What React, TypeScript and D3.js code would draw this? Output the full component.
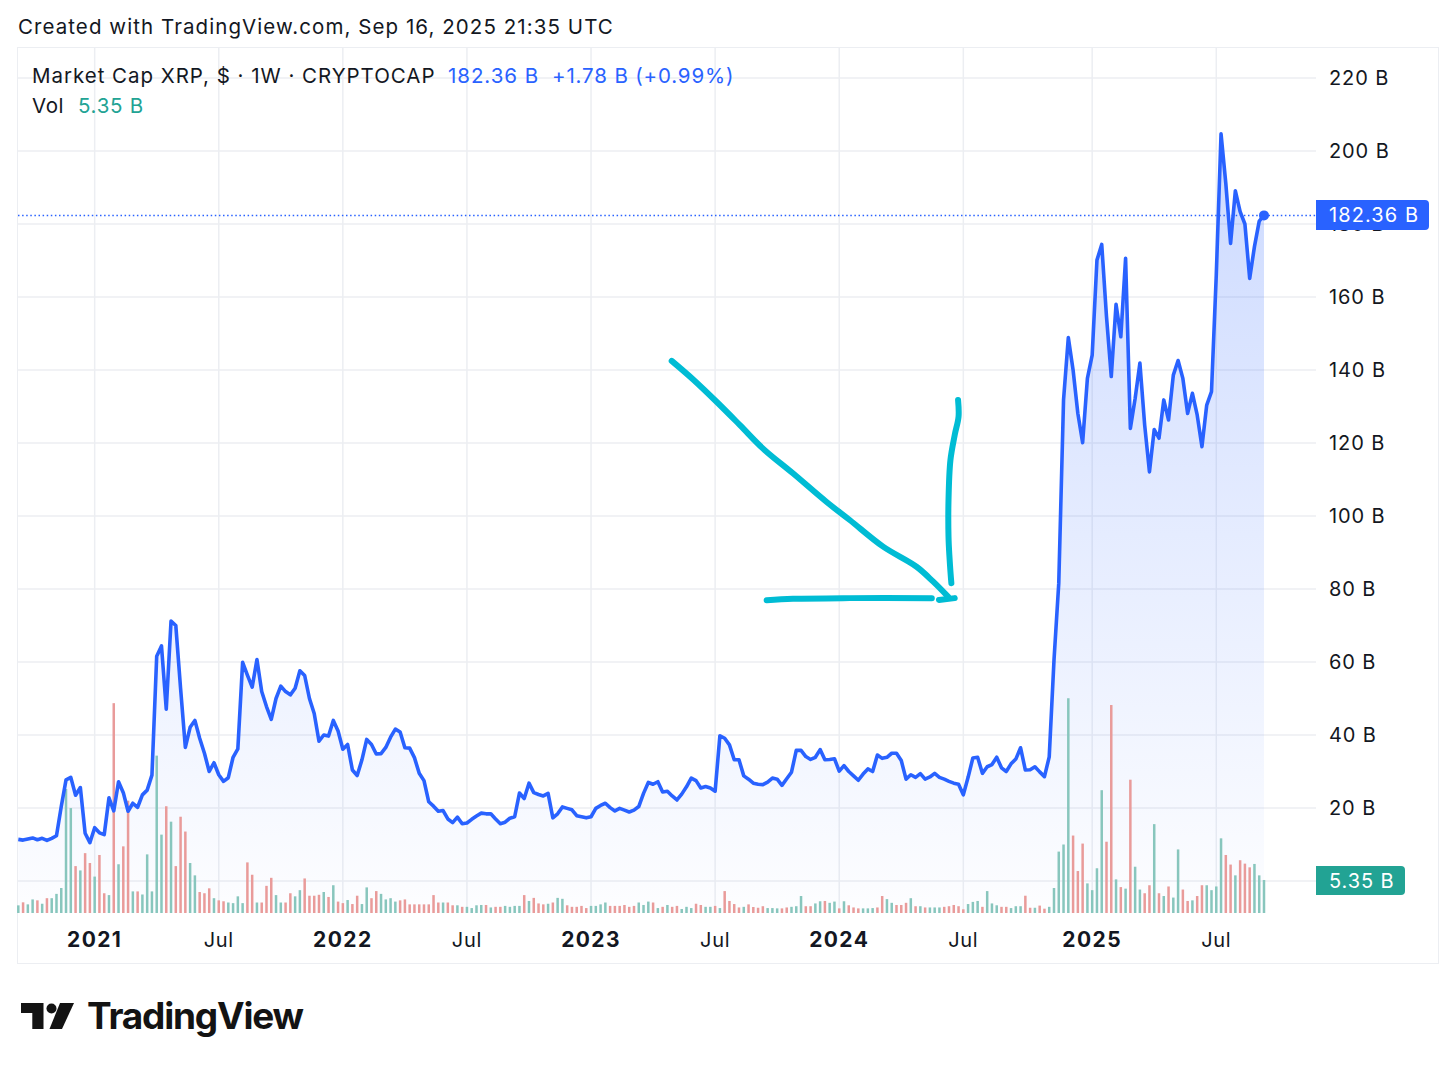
import React from "react";
import * as d3 from "d3";

const WIDTH = 1456;
const HEIGHT = 1070;
const FONT = "Inter, 'Noto Sans', sans-serif";
const BLUE = "#2962ff";
const TEAL = "#22a394";
const BAR_UP = "#88c6bd";
const BAR_DOWN = "#e99b9a";
const CYAN = "#00bcd4";
const GRID = "#eceef2";

// weekly market cap, billions USD, Sep 2020 .. Sep 2025
const marketCap = [
	11.4, 11.2, 11.5, 11.8, 11.3, 11.7, 11.1, 11.7, 12.4, 20.4,
	27.7, 28.4, 23.5, 25.6, 13.1, 10.5, 14.6, 13.2, 12.7, 22.8,
	19.2, 27.2, 24.2, 19.1, 21.3, 20.2, 23.6, 24.9, 29, 61.6,
	64.4, 47.1, 71.2, 70, 52.8, 36.6, 42.1, 44, 39.1, 35,
	30, 32.4, 29.1, 27.3, 28.3, 33.9, 36.2, 59.9, 56.4, 53.1,
	60.7, 51.9, 47.8, 44.3, 50, 53.4, 51.9, 51, 52.8, 57.6,
	56.3, 50, 45.9, 38.3, 40, 39.7, 44, 41.1, 36.1, 37.4,
	30.4, 28.9, 33.2, 38.8, 37.4, 34.8, 34.9, 36.6, 39.4, 41.6,
	40.8, 36.5, 36.4, 33.8, 29.5, 27.5, 21.7, 20.5, 19.1, 19.3,
	17, 16, 17.5, 15.7, 15.9, 16.9, 17.8, 18.6, 18.4, 18.4,
	17, 15.7, 16.1, 17.2, 17.6, 24.1, 22.6, 26.8, 24.2, 23.7,
	23.3, 24, 17.3, 18.4, 20.3, 19.9, 19.5, 17.9, 17.6, 17.3,
	17.6, 19.9, 20.7, 21.3, 20.1, 19.2, 19.9, 19.4, 18.9, 19.4,
	20.4, 24, 27, 26.5, 27.2, 24.4, 24.6, 23.3, 22.2, 23.8,
	25.8, 28.2, 27.5, 25.5, 25.9, 25.5, 24.6, 39.8, 39.1, 37.3,
	33.2, 33.2, 28.8, 27.9, 26.8, 26.5, 26.4, 27.1, 28.2, 27.9,
	26.2, 28, 29.8, 35.8, 35.8, 34.1, 33.3, 33.9, 36, 33.2,
	33.3, 33.5, 30.1, 31.6, 30, 28.8, 27.6, 29.3, 30.7, 30,
	34.5, 33.6, 33.9, 35, 35, 33, 27.9, 29.1, 28.4, 29.4,
	27.9, 28.5, 29.5, 28.4, 27.9, 27.3, 26.8, 26.5, 23.6, 28.4,
	33.7, 33.9, 29.5, 31.3, 31.9, 33.9, 31, 30, 32.1, 33.4,
	36.5, 30.4, 30.5, 31.3, 29.9, 28.6, 34, 60.5, 81.6, 131.8,
	148.9, 140, 128.1, 120.1, 137.7, 144.1, 170.1, 174.4, 154.6, 138.2,
	158, 149.1, 170.6, 124, 132.2, 141.9, 124.9, 112.1, 123.7, 121.3,
	131.8, 126.3, 138.6, 142.6, 137.7, 128.1, 133.6, 127.7, 119, 130.4,
	134.1, 166, 204.7, 191.1, 174.7, 189.1, 183.4, 180, 165.1, 173.8,
	180.8, 182.36,
];

// weekly volume, billions USD
const volume = [
	1.24, 1.73, 1.4, 2.2, 2.05, 1.5, 2.4, 2.4, 3.1, 4.05,
	20.1, 17, 7.6, 6.9, 9.7, 8.1, 5.9, 9.4, 3.2, 2.9,
	34, 7.9, 10.8, 18.2, 3.5, 3.5, 3, 9.5, 3.5, 25.5,
	12.7, 17.3, 14.8, 7.6, 15.6, 13.2, 8.1, 6.1, 3.4, 3.2,
	4, 2.4, 2.05, 1.9, 1.7, 1.6, 2.7, 1.6, 8.2, 6.2,
	1.7, 1.7, 4.4, 5.7, 2.9, 1.7, 1.7, 3.2, 2.7, 3.7,
	5.6, 2.8, 2.8, 2.95, 3.4, 2.6, 4.5, 1.85, 1.6, 2.1,
	1.45, 2.8, 1.45, 4.15, 2.4, 3.55, 3.1, 2.2, 2.4, 1.85,
	2.05, 2.2, 1.4, 1.4, 1.4, 1.4, 1.4, 2.9, 1.7, 1.7,
	1.7, 1.25, 1.25, 1, 1, 0.8, 1.25, 1.3, 1.3, 0.9,
	1, 1, 1.15, 1, 1.15, 1.15, 2.9, 1.95, 2.45, 1.55,
	1.4, 1.5, 1.7, 2.45, 2.3, 1.25, 1, 1, 1.15, 0.8,
	1.15, 1.15, 1.4, 1.7, 1.15, 1.15, 1.15, 1.3, 1, 1.15,
	1.7, 1.3, 1.85, 1.7, 0.8, 1, 1.3, 1, 1.15, 0.65,
	1, 0.8, 1.5, 1.3, 1, 1, 1.15, 0.8, 3.55, 1.95,
	1.45, 0.9, 1, 1.4, 0.97, 0.85, 1.1, 0.8, 0.8, 0.75,
	0.75, 0.9, 1, 1.1, 2.75, 1.1, 1.1, 1.55, 1.9, 1.95,
	1.65, 1.85, 0.75, 1.9, 1.25, 0.9, 0.75, 0.75, 0.75, 0.8,
	0.9, 2.75, 2.25, 1.65, 1.3, 1.3, 1.65, 2.4, 1.1, 1.1,
	0.9, 0.9, 0.9, 0.9, 1, 1.1, 1.3, 1.1, 0.6, 1.45,
	1.8, 1.95, 1, 3.55, 1.55, 1.25, 1, 1, 0.8, 1.1,
	1.1, 2.8, 0.85, 0.85, 1.2, 0.7, 1, 4.05, 9.95, 11.1,
	34.8, 12.55, 6.8, 11.25, 4.8, 3.7, 7.25, 19.9, 11.55, 33.7,
	5.45, 4.2, 3.95, 21.6, 7.5, 3.8, 3.2, 4.5, 14.4, 3.2,
	2.75, 4.3, 2.5, 10.3, 3.8, 1.95, 2.05, 2.75, 4.5, 4.5,
	3.7, 4.3, 12.1, 9.4, 7.85, 6.1, 8.55, 8, 7.4, 7.95,
	6.1, 5.35,
];

// G = up week, R = down week
const volumeSide = [
	"GRGGRGRGGG", "GGRGRRGRRG", "RGRRGRGGGG", "GRGRRRGGRR", "RGRRGGGGRR",
	"GRRRGGRRGG", "RRRRGRGRRG", "RRGGRRGGGG", "RRRRRRRRRG", "RRGRGGGGRG",
	"RRGGGGRGRR", "RGRGGRRRRR", "GGGGRRRRRR", "GGGRGRGRRG", "GGRRGGRGRR",
	"RRGRRRRGGG", "RRGGGRRGGR", "GGRGRRRGGG", "RRGGRRRGRG", "RGGGRRRRRG",
	"GGRGGGRRGG", "GRRGRRGGGG", "GRRRGGGGRR", "GRGRGGRRGR", "GRGGRRGRRG",
	"GGGRRGRRRG", "GG",
].join("");

const xTickWeeks = [16, 42, 68, 94, 120, 146, 172, 198, 225, 251];
const xTickLabels = ["2021", "Jul", "2022", "Jul", "2023", "Jul", "2024", "Jul", "2025", "Jul"];
const yTicks = [20, 40, 60, 80, 100, 120, 140, 160, 180, 200, 220];

// hand drawn arrow on the chart, [week, billions]
const arrowShaft = [
	[136.9, 142.5], [141.4, 137.4], [146.3, 131.3], [151.2, 124.9], [156.1, 118.4], [162.3, 111.7],
	[169.3, 103.9], [174.2, 98.9], [181.2, 91.6], [188.2, 86.1], [191.7, 82], [194.8, 77.9],
];
const arrowTip = [[192.9, 77], [196.2, 77.5]];
const arrowBottom = [[156.8, 76.9], [162.3, 77.3], [174.2, 77.5], [191.4, 77.5]];
const arrowSide = [
	[196.9, 131.8], [197, 127.2], [196.2, 122.2], [195.3, 115.3], [194.9, 104.4],
	[194.9, 94.3], [195.1, 88.8], [195.5, 81.6],
];

const LAST_PRICE = marketCap[marketCap.length - 1];

export default function App() {
	const xScale = d3.scaleLinear().domain([0, marketCap.length - 1]).range([18.3, 1264]);
	const yScale = d3.scaleLinear().domain([0, 220]).range([881, 78]);
	const volScale = d3.scaleLinear().domain([0, 35]).range([913, 697]);

	const line = d3.line<number>().x((_, i) => xScale(i)).y((d) => yScale(d));
	const area = d3.area<number>().x((_, i) => xScale(i)).y0(913).y1((d) => yScale(d));
	const sketch = d3
		.line<number[]>()
		.x((d) => xScale(d[0]))
		.y((d) => yScale(d[1]))
		.curve(d3.curveCatmullRom);

	const lastX = xScale(marketCap.length - 1);
	const lastY = yScale(LAST_PRICE);

	return (
		<svg
			width={WIDTH}
			height={HEIGHT}
			style={{ position: "absolute", left: 0, top: 0, display: "block", background: "#fff" }}
			fontFamily={FONT}
		>
			<defs>
				<linearGradient id="fill" gradientUnits="userSpaceOnUse" x1={0} x2={0} y1={130} y2={913}>
					<stop offset="0%" stopColor={BLUE} stopOpacity={0.24} />
					<stop offset="100%" stopColor={BLUE} stopOpacity={0.01} />
				</linearGradient>
			</defs>

			<text x={18} y={34} fontSize={20.5} fill="#131722" letterSpacing={1.07}>
				Created with TradingView.com, Sep 16, 2025 21:35 UTC
			</text>

			<rect x={17.5} y={47.5} width={1421} height={916} fill="none" stroke={GRID} />

			{yScale.ticks(11).map((v) => (
				<line key={v} x1={18} x2={1316} y1={yScale(v)} y2={yScale(v)} stroke={GRID} strokeWidth={1.5} />
			))}
			{xTickWeeks.map((w) => (
				<line key={w} x1={xScale(w)} x2={xScale(w)} y1={48} y2={913} stroke={GRID} strokeWidth={1.5} />
			))}

			<path d={area(marketCap) ?? ""} fill="url(#fill)" />

			{volume.map((v, i) => (
				<rect
					key={i}
					x={xScale(i) - 1.25}
					width={2.5}
					y={volScale(v)}
					height={913 - volScale(v)}
					fill={volumeSide[i] === "G" ? BAR_UP : BAR_DOWN}
				/>
			))}

			<line
				x1={18}
				x2={1316}
				y1={lastY}
				y2={lastY}
				stroke={BLUE}
				strokeWidth={1.5}
				strokeDasharray="1.5 2.6"
			/>
			<path d={line(marketCap) ?? ""} fill="none" stroke={BLUE} strokeWidth={3.6} strokeLinejoin="round" />
			<circle cx={lastX} cy={lastY} r={5} fill={BLUE} />

			{[arrowShaft, arrowTip, arrowBottom, arrowSide].map((pts, i) => (
				<path
					key={i}
					d={sketch(pts) ?? ""}
					fill="none"
					stroke={CYAN}
					strokeWidth={6}
					strokeLinecap="round"
					strokeLinejoin="round"
				/>
			))}

			{yTicks.map((v) => (
				<text
					key={v}
					x={1329}
					y={yScale(v)}
					dy="0.36em"
					fontSize={20}
					fill="#131722"
					letterSpacing={0.9}
				>
					{v} B
				</text>
			))}

			<path d="M1316 200H1425a4 4 0 0 1 4 4V226a4 4 0 0 1-4 4H1316Z" fill={BLUE} />
			<text x={1329} y={215} dy="0.36em" fontSize={20} fill="#fff" letterSpacing={1.1}>
				182.36 B
			</text>
			<path d="M1316 866H1401a4 4 0 0 1 4 4V891a4 4 0 0 1-4 4H1316Z" fill={TEAL} />
			<text x={1329} y={880.5} dy="0.36em" fontSize={20} fill="#fff" letterSpacing={0.9}>
				5.35 B
			</text>

			{xTickWeeks.map((w, i) => (
				<text
					key={w}
					x={xScale(w)}
					y={947}
					textAnchor="middle"
					fontSize={xTickLabels[i] === "Jul" ? 20 : 21}
					fontWeight={xTickLabels[i] === "Jul" ? 400 : 700}
					letterSpacing={xTickLabels[i] === "Jul" ? 0.7 : 1.4}
					fill="#131722"
				>
					{xTickLabels[i]}
				</text>
			))}

			<text x={32} y={82.5} fontSize={20.5} fill="#131722" letterSpacing={0.97}>
				Market Cap XRP, $ · 1W · CRYPTOCAP
			</text>
			<text x={448} y={82.5} fontSize={20.5} fill={BLUE} letterSpacing={0.95}>
				182.36 B
			</text>
			<text x={552} y={82.5} fontSize={20.5} fill={BLUE} letterSpacing={0.85}>
				+1.78 B (+0.99%)
			</text>
			<text x={32} y={112.5} fontSize={20.5} fill="#131722" letterSpacing={0.55}>
				Vol
			</text>
			<text x={78} y={112.5} fontSize={20.5} fill={TEAL} letterSpacing={0.7}>
				5.35 B
			</text>

			<g fill="#131313">
				<path d="M21 1003H43.5V1029H32.3V1013H21Z" />
				<circle cx={51.5} cy={1008.5} r={5} />
				<path d="M60 1003H74L62 1029H49.5Z" />
				<text x={87} y={1029} fontSize={37} fontWeight={700} letterSpacing={-1.2}>
					TradingView
				</text>
			</g>
		</svg>
	);
}
